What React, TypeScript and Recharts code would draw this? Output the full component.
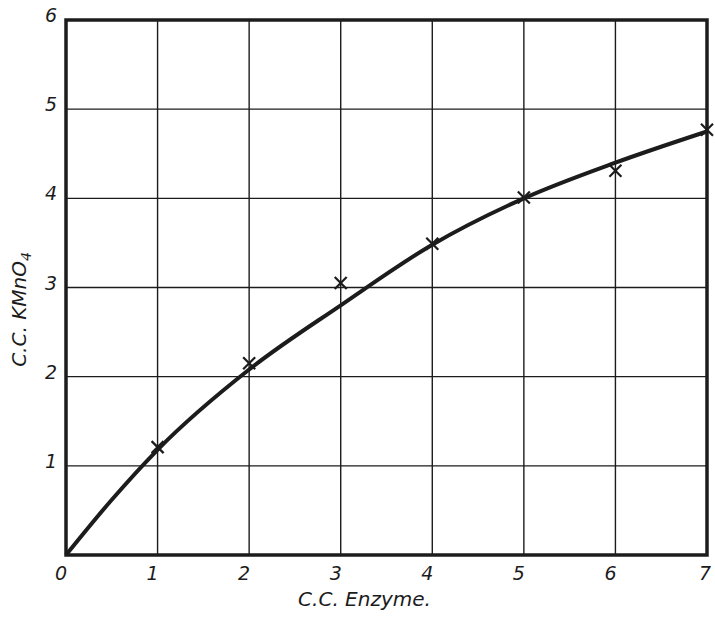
import { ComposedChart, Line, Scatter, XAxis, YAxis, CartesianGrid, ReferenceArea } from "recharts";

const xTicks = [0, 1, 2, 3, 4, 5, 6, 7];
const yTicks = [0, 1, 2, 3, 4, 5, 6];

// observed points (crosses)
const enzymeCC = [1, 2, 3, 4, 5, 6, 7];
const kmno4Observed = [1.21, 2.15, 3.05, 3.49, 4.01, 4.31, 4.77];

// fitted curve
const curveX = [0, 0.5, 1, 2, 3, 4, 5, 6, 7];
const curveY = [0, 0.62, 1.18, 2.08, 2.8, 3.48, 4.0, 4.4, 4.75];

const observed = enzymeCC.map((x, i) => ({ x, y: kmno4Observed[i] }));
const curve = curveX.map((x, i) => ({ x, y: curveY[i] }));

const ink = "#1c1c1c";
const font = "'DejaVu Sans', sans-serif";

function XTick({ x, y, payload }: any) {
  const dx = payload.value === 7 ? -2 : -5;
  return (
    <text x={x + dx} y={y + 17} textAnchor="middle" fontFamily={font} fontStyle="italic" fontSize={19} fill={ink}>
      {payload.value}
    </text>
  );
}

function YTick({ x, y, payload }: any) {
  if (payload.value === 0) return null;
  return (
    <text x={x - 1} y={y + 2} textAnchor="end" fontFamily={font} fontStyle="italic" fontSize={19} fill={ink}>
      {payload.value}
    </text>
  );
}

function Cross({ cx, cy }: any) {
  const s = 6;
  return (
    <g stroke={ink} strokeWidth={2.2}>
      <line x1={cx - s} y1={cy - s} x2={cx + s} y2={cy + s} />
      <line x1={cx - s} y1={cy + s} x2={cx + s} y2={cy - s} />
    </g>
  );
}

function YLabel({ viewBox }: any) {
  const cx = 26;
  const cy = viewBox.y + viewBox.height / 2 + 22;
  return (
    <text
      x={cx}
      y={cy}
      transform={`rotate(-90 ${cx} ${cy})`}
      textAnchor="middle"
      fontFamily={font}
      fontStyle="italic"
      fontSize={20}
      fill={ink}
    >
      C.C. KMnO<tspan fontSize={14} dy={5}>4</tspan>
    </text>
  );
}

function XLabel({ viewBox }: any) {
  return (
    <text
      x={viewBox.x + viewBox.width / 2 - 22}
      y={606}
      textAnchor="middle"
      fontFamily={font}
      fontStyle="italic"
      fontSize={20}
      fill={ink}
    >
      C.C. Enzyme.
    </text>
  );
}

export default function App() {
  return (
    <div style={{ position: "absolute", left: 0, top: 0, width: 715, height: 622, background: "#fff" }}>
      <ComposedChart width={715} height={622} margin={{ top: 20, right: 8, bottom: 37, left: 0 }}>
        <CartesianGrid stroke={ink} strokeWidth={1.4} horizontalValues={yTicks} verticalValues={xTicks} />
        <XAxis
          type="number"
          dataKey="x"
          domain={[0, 7]}
          ticks={xTicks}
          height={30}
          axisLine={false}
          tickLine={false}
          tick={<XTick />}
          label={<XLabel />}
        />
        <YAxis
          type="number"
          dataKey="y"
          domain={[0, 6]}
          ticks={yTicks}
          width={66}
          axisLine={false}
          tickLine={false}
          tick={<YTick />}
          label={<YLabel />}
        />
        <ReferenceArea x1={0} x2={7} y1={0} y2={6} fill="none" stroke={ink} strokeWidth={3.5} ifOverflow="visible" />
        <Line
          data={curve}
          dataKey="y"
          type="monotone"
          stroke={ink}
          strokeWidth={4}
          dot={false}
          activeDot={false}
          isAnimationActive={false}
        />
        <Scatter data={observed} dataKey="y" shape={<Cross />} isAnimationActive={false} />
      </ComposedChart>
    </div>
  );
}
